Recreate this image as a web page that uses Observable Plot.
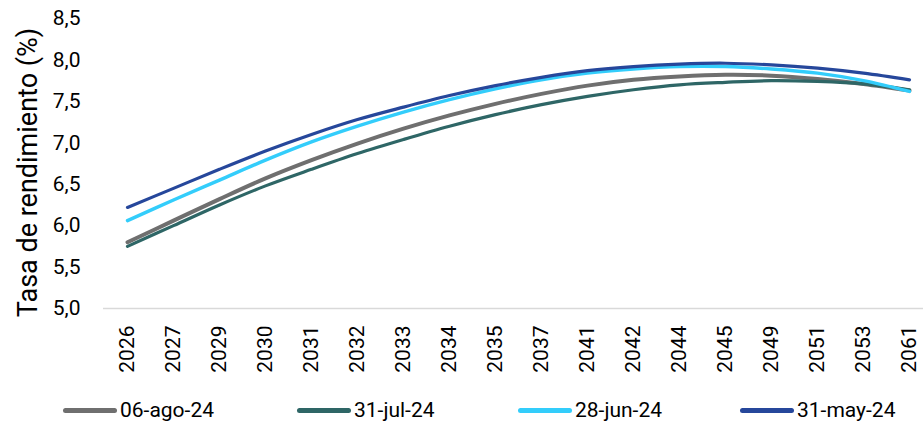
<!DOCTYPE html>
<html>
<head>
<meta charset="utf-8">
<script src="https://cdn.jsdelivr.net/npm/d3@7"></script>
<script src="https://cdn.jsdelivr.net/npm/@observablehq/plot@0.6"></script>
<style>
  html, body { margin: 0; padding: 0; background: #fff; }
  body { width: 923px; height: 426px; overflow: hidden; font-family: Roboto, sans-serif; }
  #chart svg { display: block; }
  .legend { position: relative; height: 50px; font-family: Roboto, sans-serif; font-size: 21px; color: #000; }
  .legend .item { position: absolute; top: 0; display: flex; align-items: center; height: 50px; }
  .legend .swatch { width: 54px; height: 5px; border-radius: 2.5px; margin-right: 3px; }
</style>
</head>
<body>
<div id="chart"></div>
<div class="legend" id="legend"></div>
<script>
// Maturity years of the bonds along the curve
const years = ["2026","2027","2029","2030","2031","2032","2033","2034","2035","2037","2041","2042","2044","2045","2049","2051","2053","2061"];

// Yield (%) by date of the curve
const series = ["06-ago-24", "31-jul-24", "28-jun-24", "31-may-24"];
const ago06 = [5.80, 6.06, 6.32, 6.57, 6.79, 6.99, 7.17, 7.33, 7.47, 7.59, 7.69, 7.76, 7.80, 7.82, 7.81, 7.77, 7.71, 7.63];
const jul31 = [5.75, 6.00, 6.25, 6.48, 6.68, 6.87, 7.04, 7.20, 7.34, 7.46, 7.56, 7.64, 7.70, 7.73, 7.75, 7.74, 7.71, 7.64];
const jun28 = [6.06, 6.31, 6.55, 6.79, 7.01, 7.20, 7.37, 7.52, 7.65, 7.76, 7.84, 7.89, 7.92, 7.92, 7.89, 7.84, 7.75, 7.62];
const may31 = [6.22, 6.45, 6.68, 6.90, 7.10, 7.28, 7.43, 7.57, 7.69, 7.79, 7.87, 7.92, 7.95, 7.96, 7.94, 7.90, 7.84, 7.76];
const colors = ["#6f6f6f", "#2e6666", "#33cdfb", "#26479b"];
const widths = [4, 3.2, 3.4, 3.2];
const yTicks = [5.0, 5.5, 6.0, 6.5, 7.0, 7.5, 8.0, 8.5];
const yTitle = "Tasa de rendimiento (%)";

const values = [ago06, jul31, jun28, may31];
const rows = series.flatMap((s, k) => years.map((yr, i) => ({serie: s, year: yr, value: values[k][i]})));

const comma = d => d.toFixed(1).replace(".", ",");

const plot = Plot.plot({
  width: 923,
  height: 385,
  marginLeft: 103,
  marginRight: -10,
  marginTop: 18,
  marginBottom: 77,
  style: {fontFamily: "Roboto, sans-serif", fontSize: "21px", color: "#000"},
  x: {type: "point", domain: years, padding: 0.5},
  y: {domain: [5, 8.5]},
  marks: [
    Plot.ruleY([5], {stroke: "#d9d9d9", strokeWidth: 1.5}),
    Plot.axisY({ticks: yTicks, tickFormat: comma, tickSize: 0, tickPadding: 23, fontSize: 21, label: null}),
    Plot.axisX({tickRotate: -90, tickSize: 0, tickPadding: 17, fontSize: 21, label: null}),
    Plot.text([yTitle], {text: d => d, frameAnchor: "left", rotate: -90, textAnchor: "middle",
      lineAnchor: "bottom", fontSize: 27, dx: -67, dy: 9, fill: "#000"}),
    ...series.map((s, k) => Plot.line(rows.filter(r => r.serie === s), {
      x: "year", y: "value", stroke: colors[k], strokeWidth: widths[k], curve: "catmull-rom", strokeLinecap: "round"
    }))
  ]
});
document.getElementById("chart").append(plot);

// Legend below the chart
const lefts = [63, 297, 518, 740];
const legend = document.getElementById("legend");
series.forEach((s, k) => {
  const item = document.createElement("div");
  item.className = "item";
  item.style.left = lefts[k] + "px";
  const sw = document.createElement("span");
  sw.className = "swatch";
  sw.style.background = colors[k];
  const tx = document.createElement("span");
  tx.textContent = s;
  item.append(sw, tx);
  legend.append(item);
});
</script>
</body>
</html>
